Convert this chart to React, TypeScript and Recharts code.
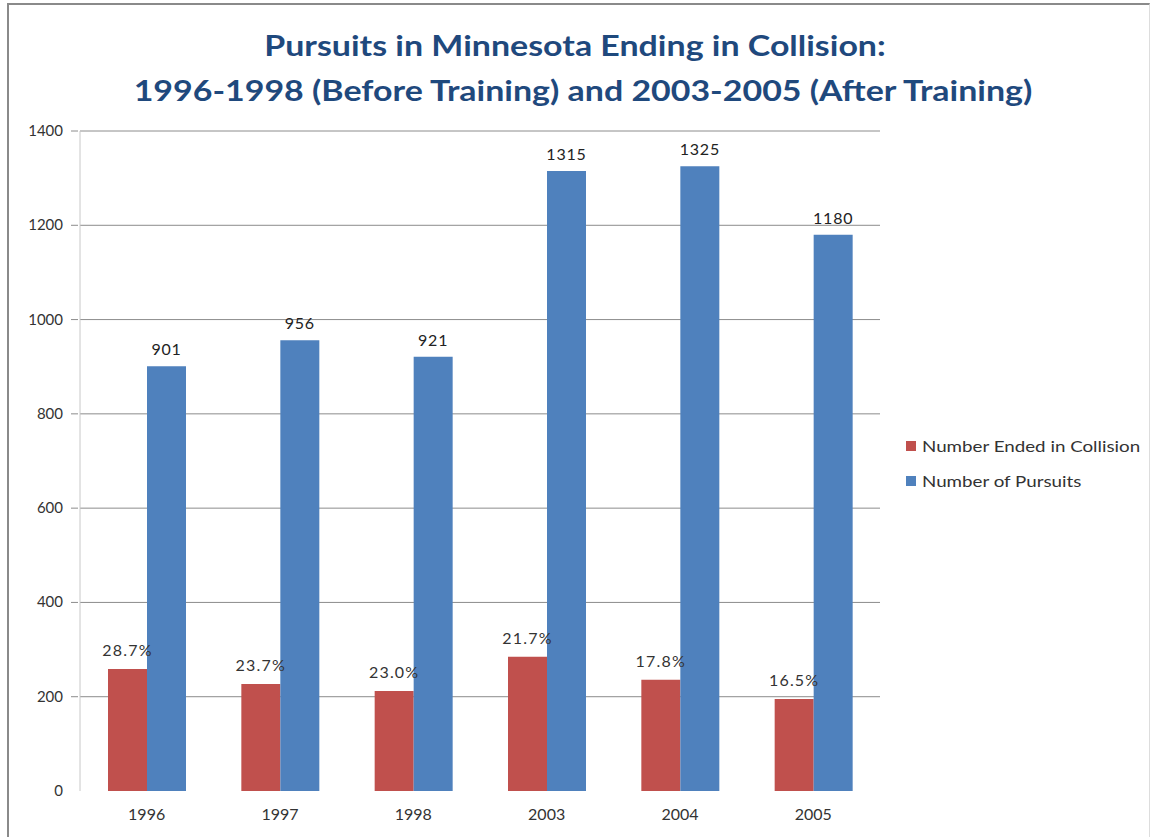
import { Bar, BarChart, CartesianGrid, LabelList, XAxis, YAxis } from "recharts";

const years = ["1996", "1997", "1998", "2003", "2004", "2005"];
const collisions = [259, 227, 212, 285, 236, 195];
const pursuits = [901, 956, 921, 1315, 1325, 1180];
const collisionPct = ["28.7%", "23.7%", "23.0%", "21.7%", "17.8%", "16.5%"];
const yTicks = [0, 200, 400, 600, 800, 1000, 1200, 1400];
const gridValues = [200, 400, 600, 800, 1000, 1200, 1400];

const data = years.map((year, i) => ({
    year,
    collisions: collisions[i],
    pursuits: pursuits[i],
}));

const FONT = "Lato, 'Open Sans', sans-serif";
const RED = "#C0504D";
const BLUE = "#4F81BD";

function PctLabel(props: any) {
    const { x, y, width, index } = props;
    return (
        <text x={x + width / 2} y={y - 13} textAnchor="middle" fontFamily={FONT} fontSize={16} letterSpacing={1.2} fill="#333">
            {collisionPct[index]}
        </text>
    );
}

function ValueLabel(props: any) {
    const { x, y, width, value } = props;
    return (
        <text x={x + width / 2} y={y - 11} textAnchor="middle" fontFamily={FONT} fontSize={16} letterSpacing={0.8} fill="#222">
            {value}
        </text>
    );
}

// y tick: label plus a short tick mark, no mark at zero like the original
function YTick(props: any) {
    const { x, y, payload } = props;
    return (
        <g>
            {payload.value !== 0 && <line x1={x} x2={x + 7} y1={y} y2={y} stroke="#8c8c8c" />}
            <text x={x - 8} y={y} dy={5} textAnchor="end" fontFamily={FONT} fontSize={15} fill="#333">
                {payload.value}
            </text>
        </g>
    );
}

function LegendBox() {
    const items = [
        { color: RED, label: "Number Ended in Collision" },
        { color: BLUE, label: "Number of Pursuits" },
    ];
    return (
        <div style={{ position: "absolute", left: 906, top: 428, fontFamily: FONT, fontSize: 15, color: "#333" }}>
            {items.map((it) => (
                <div key={it.label} style={{ display: "flex", alignItems: "center", height: 35 }}>
                    <span style={{ width: 10, height: 10, background: it.color, marginRight: 6, display: "inline-block" }} />
                    <span style={{ display: "inline-block", transform: "scaleX(1.25)", transformOrigin: "left center", whiteSpace: "nowrap" }}>{it.label}</span>
                </div>
            ))}
        </div>
    );
}

export default function App() {
    return (
        <div style={{ position: "fixed", left: 0, top: 0, width: 1153, height: 837, background: "#fff", overflow: "hidden" }}>
            <div style={{ position: "absolute", left: 7, top: 3, width: 1143, height: 850, border: "2px solid #8a8a8a", borderRight: "1px solid #ddd", boxSizing: "border-box" }} />
            <div style={{ position: "absolute", left: 0, top: 22, width: 1166, textAlign: "center", fontFamily: FONT, fontWeight: 700, fontSize: 29, color: "#1F497D", lineHeight: "45px" }}>
                <div style={{ transform: "translateX(-8px) scaleX(1.17)" }}>Pursuits in Minnesota Ending in Collision:</div>
                <div style={{ transform: "scaleX(1.17)" }}>1996-1998 (Before Training) and 2003-2005 (After Training)</div>
            </div>
            <div style={{ position: "absolute", left: 0, top: 0 }}>
                <BarChart width={1153} height={837} data={data} margin={{ top: 131, right: 273, left: 20, bottom: 16 }} barCategoryGap="21%" barGap={0}>
                    <CartesianGrid vertical={false} stroke="#8c8c8c" horizontalValues={gridValues} />
                    <XAxis dataKey="year" axisLine={false} tickLine={false} height={30} tick={{ fill: "#333", fontSize: 16, fontFamily: FONT }} tickMargin={12} />
                    <YAxis domain={[0, 1400]} ticks={yTicks} width={60} axisLine={{ stroke: "#c8c8c8" }} tickLine={false} tickSize={7} tick={<YTick />} interval={0} />
                    <Bar dataKey="collisions" name="Number Ended in Collision" fill={RED} isAnimationActive={false}>
                        <LabelList dataKey="collisions" content={<PctLabel />} />
                    </Bar>
                    <Bar dataKey="pursuits" name="Number of Pursuits" fill={BLUE} isAnimationActive={false}>
                        <LabelList dataKey="pursuits" content={<ValueLabel />} />
                    </Bar>
                </BarChart>
            </div>
            <LegendBox />
        </div>
    );
}
